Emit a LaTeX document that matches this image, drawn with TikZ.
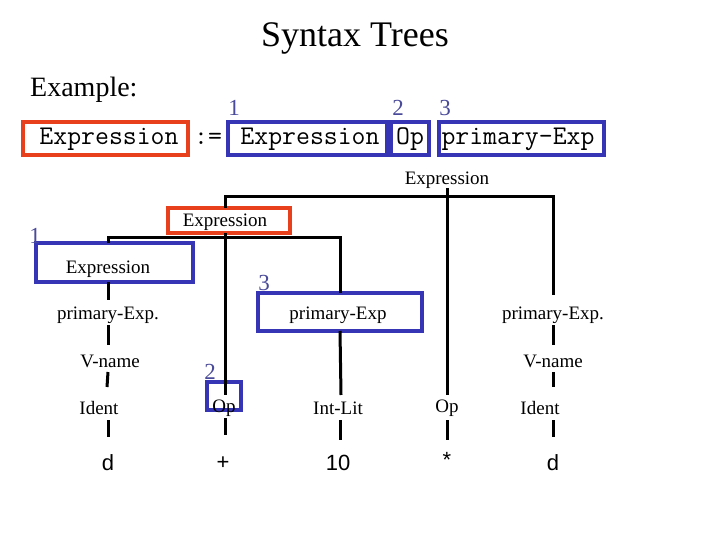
\documentclass[tikz,border=0pt]{standalone}
\usepackage{fontspec}
\setmainfont{Liberation Serif}
\setsansfont{Liberation Sans}
\definecolor{rbox}{HTML}{E8401C}
\definecolor{bbox}{HTML}{3535B5}
\definecolor{numc}{HTML}{4A4A9A}
\begin{document}
\begin{tikzpicture}[x=1pt,y=-1pt,
  lab/.style={font=\fontsize{19}{19}\selectfont,inner sep=1pt,yshift=-2pt},
  leaf/.style={font=\sffamily\fontsize{22}{22}\selectfont,inner sep=1pt},
  num/.style={text=numc,font=\fontsize{23}{23}\selectfont,inner sep=0pt},
  code/.style={font=\ttfamily\fontsize{27}{27}\selectfont,inner sep=0pt},
  rb/.style={draw=rbox,line width=3.5pt},
  bb/.style={draw=bbox,line width=3.5pt},
  edge/.style={line width=3pt}]
\useasboundingbox (0,0) rectangle (720,540);
\node (title) at (355,38) {\fontsize{36}{36}\selectfont Syntax Trees};
\node[anchor=west,inner sep=0pt] (ex) at (30,90) {\fontsize{28}{28}\selectfont Example:};
% code line
\draw[rb] (23,122) rectangle (188,155);
\draw[bb] (228,122) rectangle (387,155);
\draw[bb] (391,122) rectangle (429,155);
\draw[bb] (439,122) rectangle (604,155);
\node[code] (w1) at (109,139) {Expression};
\node[code] (w2) at (208,139) {:=};
\node[code] (w3) at (310,139) {Expression};
\node[code] (w4) at (410,139) {Op};
\node[code] (w5) at (518,139) {primary-Exp};
\node[num] (c1) at (234,108) {1};
\node[num] (c2) at (398,108) {2};
\node[num] (c3) at (445,108) {3};
% tree nodes
\node[lab] (root) at (447,178) {Expression};
\draw[rb] (168,208) rectangle (290,233);
\node[lab] (e2) at (225,220) {Expression};
\draw[bb] (36,243) rectangle (193,282);
\node[lab] (e1) at (108,267) {Expression};
\node[num] (n1) at (35,236) {1};
\node[lab] (p1) at (108,313) {primary-Exp.};
\node[lab] (v1) at (110,359) {V-name};
\node[lab] (i1) at (99,406) {Ident};
\node[leaf] (d1) at (108,463) {d};
\draw[bb] (258,293) rectangle (422,331);
\node[lab] (p3) at (338,313) {primary-Exp};
\node[num] (n3) at (264,283) {3};
\node[lab] (il) at (338,406) {Int-Lit};
\node[leaf] (ten) at (338,463) {10};
\draw[bb] (207,382) rectangle (241,410);
\node[lab] (op1) at (224,406) {Op};
\node[num] (n2) at (210,372) {2};
\node[leaf] (plus) at (223,463) {+};
\node[lab] (op2) at (447,406) {Op};
\node[leaf] (star) at (447,460) {*};
\node[lab] (p2) at (553,313) {primary-Exp.};
\node[lab] (v2) at (553,359) {V-name};
\node[lab] (i2) at (540,406) {Ident};
\node[leaf] (d2) at (553,463) {d};
% connectors
\draw[edge] (447,188) -- (447,395);
\draw[edge] (225,208) |- (447,197) -| (553,295);
\draw[edge] (225,233) -- (225,395);
\draw[edge] (108,243) |- (225,237) -| (340,293);
\draw[edge] (108,282) -- (108,300);
\draw[edge] (108,325) -- (108,345);
\draw[edge] (108,372) -- (107,387);
\draw[edge] (108,420) -- (108,437);
\draw[edge] (340,331) -- (341,395);
\draw[edge] (340,420) -- (340,440);
\draw[edge] (225,418) -- (225,435);
\draw[edge] (447,420) -- (447,440);
\draw[edge] (553,325) -- (553,345);
\draw[edge] (553,372) -- (553,387);
\draw[edge] (553,420) -- (553,437);
\end{tikzpicture}
\end{document}
